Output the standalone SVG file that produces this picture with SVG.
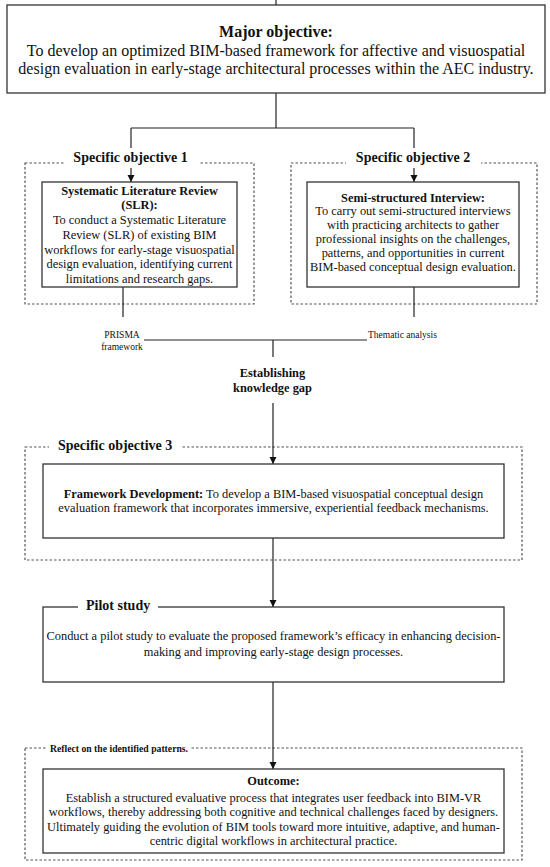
<svg xmlns="http://www.w3.org/2000/svg" width="550" height="867" viewBox="0 0 550 867">
<style>
  text { font-family: "Liberation Serif", "Times New Roman", serif; fill: #111; }
  .box { fill: #fff; stroke: #333; stroke-width: 1.3; }
  .dash { fill: none; stroke: #555; stroke-width: 1.2; stroke-dasharray: 2.5 2; }
  .conn { fill: none; stroke: #222; stroke-width: 1.2; }
  .bg { fill: #fff; stroke: none; }
  .t16 { font-size: 16px; }
  .t14b { font-size: 14px; font-weight: bold; }
  .body { font-size: 12.4px; }
  .bold { font-weight: bold; }
  .small { font-size: 9.5px; }
  .c { text-anchor: middle; }
</style>
<defs>
  <marker id="arrow" viewBox="0 0 10 10" refX="10" refY="5" markerWidth="7" markerHeight="8" markerUnits="userSpaceOnUse" orient="auto">
    <path d="M0,0 L10,5 L0,10 z" fill="#111"/>
  </marker>
</defs>
<rect width="550" height="867" fill="#fff"/>

<!-- dashed containers -->
<g id="container-so1"><rect class="dash" x="25" y="163" width="229" height="141"/></g>
<g id="container-so2"><rect class="dash" x="291" y="163" width="246" height="141"/></g>
<g id="container-so3"><rect class="dash" x="25" y="447" width="497" height="113"/></g>
<g id="container-reflect"><rect class="dash" x="25" y="748" width="497" height="112"/></g>

<!-- connectors -->
<g id="connectors">
  <line class="conn" x1="276" y1="0" x2="276" y2="5"/>
  <polyline class="conn" points="276,93 276,128"/>
  <line class="conn" x1="131" y1="128" x2="414" y2="128"/>
  <line class="conn" x1="131" y1="128" x2="131" y2="182" marker-end="url(#arrow)"/>
  <line class="conn" x1="414" y1="128" x2="414" y2="182" marker-end="url(#arrow)"/>
  <line class="conn" x1="123" y1="287" x2="123" y2="317"/>
  <line class="conn" x1="414" y1="287" x2="414" y2="317"/>
  <line class="conn" x1="144" y1="340" x2="367" y2="340"/>
  <line class="conn" x1="273" y1="340" x2="273" y2="357"/>
  <line class="conn" x1="273" y1="403" x2="273" y2="464" marker-end="url(#arrow)"/>
  <line class="conn" x1="273" y1="538" x2="273" y2="607" marker-end="url(#arrow)"/>
  <line class="conn" x1="273" y1="682" x2="273" y2="769" marker-end="url(#arrow)"/>
</g>

<!-- major objective -->
<g id="major-objective">
  <rect class="box" x="7" y="5" width="538" height="88"/>
  <text class="t16 c bold" x="276" y="36.5">Major objective:</text>
  <text class="t16 c" x="276" y="55.5">To develop an optimized BIM-based framework for affective and visuospatial</text>
  <text class="t16 c" x="276" y="73.5">design evaluation in early-stage architectural processes within the AEC industry.</text>
</g>

<!-- specific objective 1 label -->
<g id="label-so1">
  <rect class="bg" x="65" y="148" width="135" height="20"/>
  <text class="t14b c" x="130.5" y="162">Specific objective 1</text>
</g>
<g id="label-so2">
  <rect class="bg" x="346" y="148" width="135" height="20"/>
  <text class="t14b c" x="413" y="162">Specific objective 2</text>
</g>

<!-- SLR -->
<g id="slr">
  <rect class="box" x="42" y="182" width="195" height="105"/>
  <text class="body c bold" x="139.5" y="194.5">Systematic Literature Review</text>
  <text class="body c bold" x="139.5" y="209.3">(SLR):</text>
  <text class="body c" x="139.5" y="224">To conduct a Systematic Literature</text>
  <text class="body c" x="139.5" y="238.8">Review (SLR) of existing BIM</text>
  <text class="body c" x="139.5" y="253.6">workflows for early-stage visuospatial</text>
  <text class="body c" x="139.5" y="268.4">design evaluation, identifying current</text>
  <text class="body c" x="139.5" y="283.2">limitations and research gaps.</text>
</g>

<!-- Interview -->
<g id="interview">
  <rect class="box" x="307" y="182" width="212" height="105"/>
  <text class="body c bold" x="413" y="201.5">Semi-structured Interview:</text>
  <text class="body c" x="413" y="215.3">To carry out semi-structured interviews</text>
  <text class="body c" x="413" y="229.1">with practicing architects to gather</text>
  <text class="body c" x="413" y="242.9">professional insights on the challenges,</text>
  <text class="body c" x="413" y="256.7">patterns, and opportunities in current</text>
  <text class="body c" x="413" y="270.5">BIM-based conceptual design evaluation.</text>
</g>

<!-- method labels -->
<g id="prisma">
  <text class="small c" x="122" y="337.5">PRISMA</text>
  <text class="small c" x="122" y="349.5">framework</text>
</g>
<g id="thematic">
  <text class="small" x="368" y="337.5">Thematic analysis</text>
</g>

<!-- knowledge gap -->
<g id="knowledge-gap">
  <text class="body c bold" x="272.5" y="376.5">Establishing</text>
  <text class="body c bold" x="272.5" y="391.5">knowledge gap</text>
</g>

<!-- specific objective 3 -->
<g id="label-so3">
  <rect class="bg" x="49" y="436" width="133" height="18"/>
  <text class="t14b" x="58" y="450">Specific objective 3</text>
</g>
<g id="framework">
  <rect class="box" x="43" y="464" width="461" height="74"/>
  <text class="body c" x="273.5" y="497.5"><tspan class="bold">Framework Development:</tspan> To develop a BIM-based visuospatial conceptual design</text>
  <text class="body c" x="273.5" y="511.5">evaluation framework that incorporates immersive, experiential feedback mechanisms.</text>
</g>

<!-- pilot study -->
<g id="pilot">
  <rect class="box" x="43" y="607" width="461" height="75"/>
  <rect class="bg" x="78" y="598" width="80" height="16"/>
  <text class="t14b" x="86" y="610">Pilot study</text>
  <text class="body c" x="273.5" y="640">Conduct a pilot study to evaluate the proposed framework’s efficacy in enhancing decision-</text>
  <text class="body c" x="273.5" y="656">making and improving early-stage design processes.</text>
</g>

<!-- reflect label -->
<g id="label-reflect">
  <rect class="bg" x="47" y="742" width="143" height="12"/>
  <text class="bold" x="50" y="751.5" font-size="9.7">Reflect on the identified patterns.</text>
</g>

<!-- outcome -->
<g id="outcome">
  <rect class="box" x="43" y="769" width="461" height="84"/>
  <text class="body c bold" x="273.5" y="784.5">Outcome:</text>
  <text class="body c" x="273.5" y="801.5">Establish a structured evaluative process that integrates user feedback into BIM-VR</text>
  <text class="body c" x="273.5" y="816">workflows, thereby addressing both cognitive and technical challenges faced by designers.</text>
  <text class="body c" x="273.5" y="830.5">Ultimately guiding the evolution of BIM tools toward more intuitive, adaptive, and human-</text>
  <text class="body c" x="273.5" y="845">centric digital workflows in architectural practice.</text>
</g>
</svg>
